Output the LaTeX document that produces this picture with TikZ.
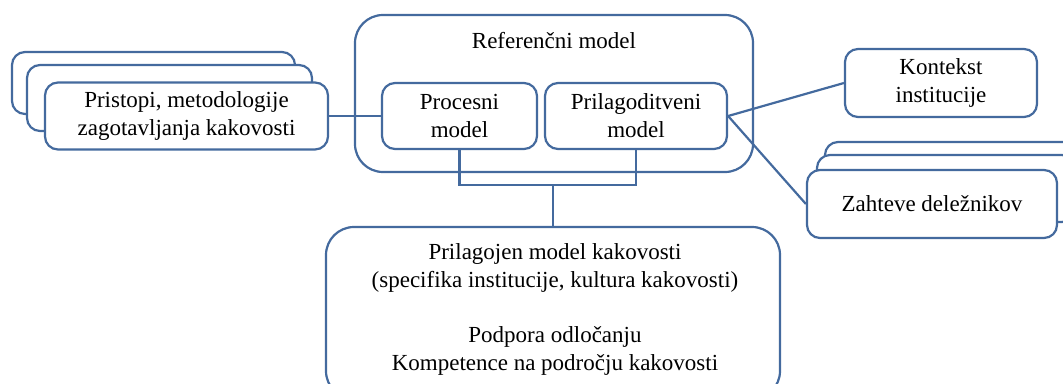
\documentclass[tikz,border=0pt]{standalone}
\usepackage{fontspec}
\setmainfont{Liberation Serif}
\definecolor{edge}{RGB}{68,106,158}
\begin{document}
\begin{tikzpicture}[x=1pt,y=-1pt,
  txt/.style={font=\fontsize{23}{28}\selectfont,align=center},
  box/.style={txt,draw=edge,line width=2.2pt,fill=white,rounded corners=13pt,inner sep=0pt},
  big/.style={box,rounded corners=28pt},
  conn/.style={draw=edge,line width=2.2pt}]
\useasboundingbox (0,0) rectangle (1063,383);
\clip (0,0) rectangle (1063,383);
% left stack
\node[box,minimum width=283pt,minimum height=62pt] (l1) at (153.5,83) {};
\node[box,minimum width=285pt,minimum height=66pt] (l2) at (169.5,98) {};
\node[box,minimum width=283pt,minimum height=67pt] (l3) at (186.5,116) {Pristopi, metodologije\\zagotavljanja kakovosti};
% reference model
\node[big,minimum width=398pt,minimum height=157pt] (ref) at (554,93.5) {};
\node[txt] (reft) at (554,41) {Referenčni model};
\node[box,minimum width=155pt,minimum height=66pt] (proc) at (459.5,116) {Procesni\\model};
\node[box,minimum width=182pt,minimum height=66pt] (pril) at (636,116) {Prilagoditveni\\model};
% context
\node[box,minimum width=192pt,minimum height=68pt] (kon) at (941,83) {Kontekst\\institucije};
% stakeholders stack
\node[box,minimum width=265pt,minimum height=68pt] (z3) at (957.5,176) {};
\node[box,minimum width=258pt,minimum height=67pt] (z2) at (946,188.5) {};
\node[box,minimum width=250pt,minimum height=68pt] (z1) at (932,204) {Zahteve deležnikov};
% bottom
\node[big,minimum width=454pt,minimum height=172pt] (bot) at (553,313) {};
\node[txt] (bott) at (555,309) {Prilagojen model kakovosti\\(specifika institucije, kultura kakovosti)\\[27pt]Podpora odločanju\\Kompetence na področju kakovosti};
% connectors
\coordinate (j) at (553,185);
\draw[conn] (proc.south) |- (j) -| (pril.south);
\draw[conn] (j) -- (bot.north);
\draw[conn] (l3.east) -- (proc.west);
\draw[conn] (pril.east) -- (kon.west);
\draw[conn] (pril.east) -- (z1.west);
\end{tikzpicture}
\end{document}
